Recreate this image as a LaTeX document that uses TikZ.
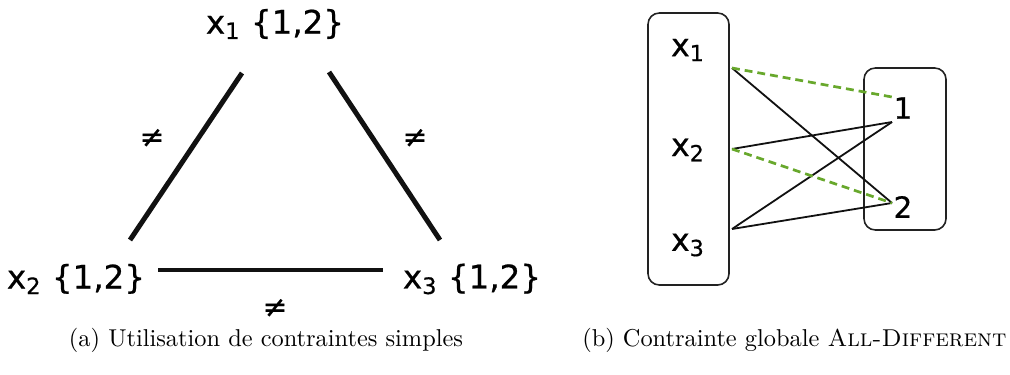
\documentclass[tikz,border=0pt]{standalone}
\usepackage{fontspec}
\usepackage{tikz}
\usepackage{xcolor}
\usetikzlibrary{positioning,calc}
\newfontfamily\labelfont[FakeBold=0.6]{DejaVu Sans}
\definecolor{MatchGreen}{HTML}{68A82C}
\definecolor{EdgeBlack}{HTML}{111111}
\definecolor{BoxGrey}{HTML}{222222}
\tikzset{
    % Variable label with its domain
    varnode/.style={
        inner sep=1pt,
        font=\labelfont\fontsize{14.4}{16}\selectfont
    },
    % Inequality sign
    neqnode/.style={
        inner sep=1pt,
        font=\labelfont\fontsize{13}{15}\selectfont
    },
    % Thick constraint edge
    constraint/.style={
        line width=2.2pt,
        draw=EdgeBlack
    },
    % Labels inside the bipartite boxes
    bipvar/.style={
        inner sep=1pt,
        font=\labelfont\fontsize{14}{16}\selectfont
    },
    bipval/.style={
        inner sep=1pt,
        font=\labelfont\fontsize{13}{15}\selectfont
    },
    % Rounded container box
    groupbox/.style={
        draw=BoxGrey,
        line width=0.7pt,
        rounded corners=5pt
    },
    % Bipartite edges
    plainedge/.style={
        line width=0.8pt,
        draw=EdgeBlack
    },
    matchedge/.style={
        line width=1.2pt,
        draw=MatchGreen,
        dash pattern=on 3.5pt off 2.2pt
    },
    captionnode/.style={
        inner sep=0pt,
        font=\fontsize{10.8}{13}\selectfont
    }
}
\begin{document}
\begin{tikzpicture}[x=0.443pt, y=-0.443pt]
        \useasboundingbox (0,0) rectangle (1010,374);

        % (a) simple constraints
        \node[varnode] (v1) at (275,24) {x\textsubscript{1} \{1,2\}};
        \node[varnode] (v2) at (76,279) {x\textsubscript{2} \{1,2\}};
        \node[varnode] (v3) at (472,279) {x\textsubscript{3} \{1,2\}};

        \coordinate (e12a) at (242,73);
        \coordinate (e12b) at (130,240);
        \coordinate (e13a) at (329,72);
        \coordinate (e13b) at (440,240);
        \coordinate (e23a) at (158,270);
        \coordinate (e23b) at (383,270);

        \draw[constraint] (e12a) -- (e12b);
        \draw[constraint] (e13a) -- (e13b);
        \draw[constraint] (e23a) -- (e23b);

        \node[neqnode] (n12) at (152,138) {≠};
        \node[neqnode] (n13) at (415,138) {≠};
        \node[neqnode] (n23) at (275,308) {≠};

        % (b) global constraint
        \draw[groupbox] (648,13) rectangle (729,285);
        \draw[groupbox] (864,68) rectangle (946,230);

        \node[bipvar] (b1) at (688,50) {x\textsubscript{1}};
        \node[bipvar] (b2) at (688,150) {x\textsubscript{2}};
        \node[bipvar] (b3) at (688,245) {x\textsubscript{3}};
        \node[bipval] (d1) at (903,108) {1};
        \node[bipval] (d2) at (903,207) {2};

        \coordinate (p1) at (732,68);
        \coordinate (p2) at (732,149);
        \coordinate (p3) at (732,229);
        \coordinate (q1g) at (892,97);
        \coordinate (q1) at (892,122);
        \coordinate (q2) at (892,203);

        \draw[plainedge] (p1) -- (q2);
        \draw[plainedge] (p2) -- (q1);
        \draw[plainedge] (p3) -- (q1);
        \draw[plainedge] (p3) -- (q2);
        \draw[matchedge] (p1) -- (q1g);
        \draw[matchedge] (p2) -- (q2);

        % Captions
        \node[captionnode] (capa) at (266,340) {(a) Utilisation de contraintes simples};
        \node[captionnode, anchor=east] (capb) at (1007,340) {(b) Contrainte globale \textsc{All-Different}};
    \end{tikzpicture}
\end{document}
